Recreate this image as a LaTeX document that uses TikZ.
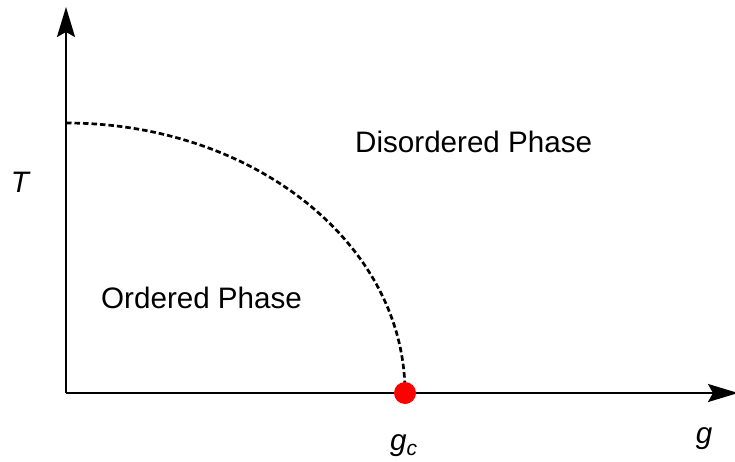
\documentclass[tikz,border=0pt]{standalone}
\usepackage{fontspec}
\setmainfont{Liberation Sans}
\usetikzlibrary{arrows.meta}
\tikzset{
  axis/.style={line width=2pt, -{Stealth[length=30pt,width=18pt,inset=5pt]}},
  boundary/.style={line width=2.7pt, dash pattern=on 5.5pt off 3pt},
  label/.style={inner sep=0pt, font=\fontsize{29.6}{32}\selectfont},
  critdot/.style={circle, fill=red, draw=none, minimum size=22pt, inner sep=0pt}
}
\begin{document}
\begin{tikzpicture}[x=1pt,y=1pt]
\useasboundingbox (0,0) rectangle (735,461);
\coordinate (O) at (66,68);
\coordinate (Ttip) at (66,454);
\coordinate (gtip) at (738,68);
\coordinate (Tc) at (66,338);
\draw[axis] (O) -- (Ttip);
\draw[axis] (O) -- (gtip);
\draw[boundary] (Tc) arc[start angle=90, end angle=0, x radius=339pt, y radius=270pt] coordinate (gcpt);
\node[critdot] (gc) at (gcpt) {};
\node[label, anchor=base west] (dis) at (355,308) {Disordered Phase};
\node[label, anchor=base west] (ord) at (101,153) {Ordered Phase};
\node[label, anchor=base] (T) at (20,269) {\itshape T};
\node[label, anchor=base west] (gclab) at (390,11) {\itshape g\raisebox{-5pt}{\fontsize{21}{21}\selectfont c}};
\node[label, anchor=base] (g) at (704,18) {\itshape g};
\end{tikzpicture}
\end{document}
